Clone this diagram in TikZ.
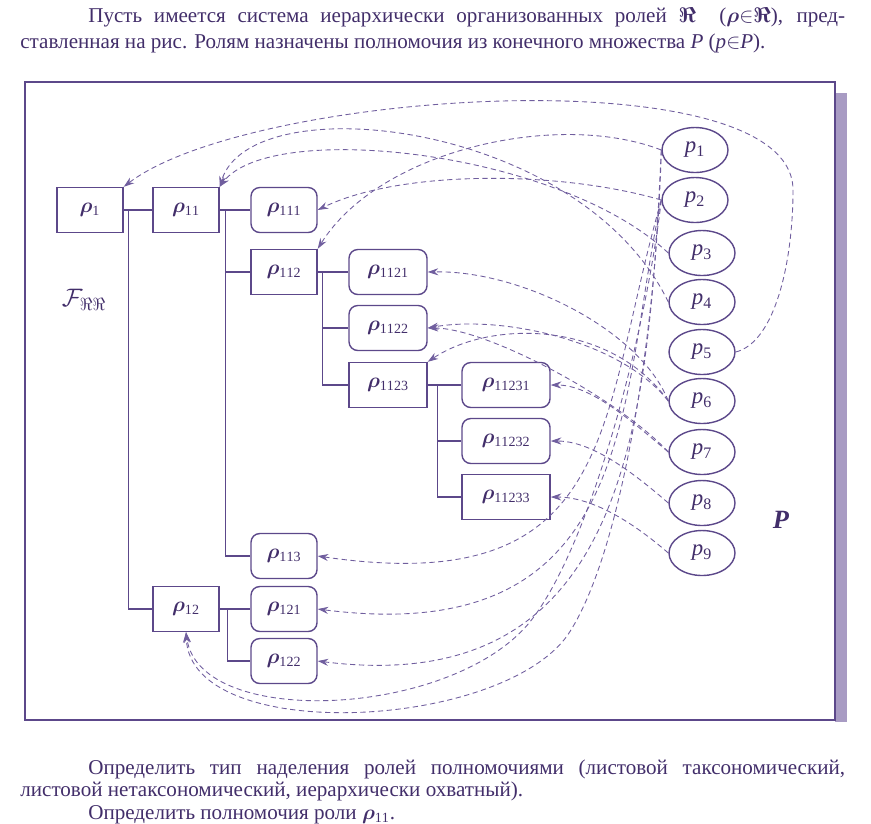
\documentclass[tikz,border=0pt]{standalone}
\usepackage{fontspec}
\setmainfont{Liberation Serif}
\usepackage{amsmath,amssymb,bm}
\usetikzlibrary{arrows.meta,shapes.geometric}
\definecolor{roleInk}{RGB}{66,46,106}
\definecolor{roleLine}{RGB}{92,72,138}
\definecolor{grantLine}{RGB}{112,94,158}
\definecolor{frameShade}{RGB}{168,155,195}
\newcommand{\rolerho}[1]{$\bm{\rho}_{\mathrm{#1}}$}
\newcommand{\permp}[1]{$\mathit{p}_{\mathrm{#1}}$}
\tikzset{
  rolebox/.style={draw=roleLine,line width=.8pt,text=roleInk,minimum width=1.32cm,minimum height=.9cm,inner sep=1pt,font=\fontsize{12}{14}\selectfont},
  roleround/.style={rolebox,rounded corners=5pt},
  permnode/.style={ellipse,draw=roleLine,line width=.8pt,text=roleInk,minimum width=1.32cm,minimum height=.9cm,inner sep=0pt,font=\fontsize{13}{14}\selectfont},
  treeline/.style={draw=roleLine,line width=.8pt},
  grant/.style={draw=grantLine,line width=.5pt,densely dashed,-{Stealth[length=6pt,width=4pt]}},
  textblock/.style={anchor=north west,inner sep=0pt,text width=16.5cm,align=justify,text=roleInk}
}
\begin{document}
\begin{tikzpicture}[x=0.02cm,y=-0.02cm]
\useasboundingbox (0,0) rectangle (871,823);
% frame with shadow
\fill[frameShade] (835,93) rectangle (847,722);
\draw[draw=roleLine,line width=1pt] (25,82) rectangle (835,720);

% texts
\node[textblock,font=\fontsize{12}{14.8}\selectfont] (intro) at (20,7) {\hspace*{1.36cm}Пусть имеется система иерархически организованных ролей $\bm{\Re}$ \ ($\bm{\rho}{\in}\bm{\Re}$), пред-\linebreak ставленная на рис. Ролям назначены полномочия из конечного множества \textit{P} (\textit{p}${\in}$\textit{P}).};
\node[textblock,font=\fontsize{12}{12.9}\selectfont] (task) at (20,759) {\hspace*{1.36cm}Определить тип наделения ролей полномочиями (листовой таксономический, листовой нетаксономический, иерархически охватный).\par
\hspace*{1.36cm}Определить полномочия роли $\bm{\rho}_{\mathrm{11}}$.};

% roles
\node[rolebox] (r1) at (90,210) {\rolerho{1}};
\node[rolebox] (r11) at (186,210) {\rolerho{11}};
\node[roleround] (r111) at (284,210) {\rolerho{111}};
\node[rolebox] (r112) at (284,272) {\rolerho{112}};
\node[roleround,minimum width=1.56cm] (r1121) at (388,272) {\rolerho{1121}};
\node[roleround,minimum width=1.56cm] (r1122) at (388,328) {\rolerho{1122}};
\node[rolebox,minimum width=1.56cm] (r1123) at (388,385) {\rolerho{1123}};
\node[roleround,minimum width=1.76cm] (r11231) at (506,385) {\rolerho{11231}};
\node[roleround,minimum width=1.76cm] (r11232) at (506,441) {\rolerho{11232}};
\node[rolebox,minimum width=1.76cm] (r11233) at (506,497) {\rolerho{11233}};
\node[roleround] (r113) at (284,556) {\rolerho{113}};
\node[rolebox] (r12) at (186,609) {\rolerho{12}};
\node[roleround] (r121) at (284,609) {\rolerho{121}};
\node[roleround] (r122) at (284,661) {\rolerho{122}};

% permissions
\node[permnode] (p1) at (695,150) {\permp{1}};
\node[permnode] (p2) at (695,200) {\permp{2}};
\foreach \n/\y in {3/253,4/302,5/352,6/401,7/452,8/503,9/553}
  \node[permnode] (p\n) at (702,\y) {\permp{\n}};

\node[text=roleInk,font=\fontsize{14}{15}\selectfont] (fRR) at (84,300) {$\mathcal{F}_{\Re\Re}$};
\node[text=roleInk,font=\fontsize{15}{16}\selectfont] (Pset) at (781,520) {\textbf{\textit{P}}};

% hierarchy
\draw[treeline] (r1.east) -- (r11.west);
\draw[treeline] ([xshift=.1cm]r1.east) |- (r12.west);
\draw[treeline] (r11.east) -- (r111.west);
\draw[treeline] ([xshift=.12cm]r11.east) |- (r112.west);
\draw[treeline] ([xshift=.12cm]r11.east) |- (r113.west);
\draw[treeline] (r112.east) -- (r1121.west);
\draw[treeline] ([xshift=.1cm]r112.east) |- (r1122.west);
\draw[treeline] ([xshift=.1cm]r112.east) |- (r1123.west);
\draw[treeline] (r1123.east) -- (r11231.west);
\draw[treeline] ([xshift=.2cm]r1123.east) |- (r11232.west);
\draw[treeline] ([xshift=.2cm]r1123.east) |- (r11233.west);
\draw[treeline] (r12.east) -- (r121.west);
\draw[treeline] ([xshift=.16cm]r12.east) |- (r122.west);

% assignments
\draw[grant] (p5.east) .. controls +(40,-10) and +(0,70) .. (793,190) .. controls +(0,-135) and +(127,-97) .. (r1.north east);
\draw[grant] (p4.west) .. controls +(-88,-182) and +(31,-102) .. (r11.north east);
\draw[grant] (p3.west) .. controls +(-110,-103) and +(51,-67) .. (r11.north east);
\draw[grant] (p1.west) .. controls +(-103,-40) and +(62,-99) .. (r112.north east);
\draw[grant] (p2.west) .. controls +(-103,-30) and +(82,-40) .. (r111.east);
\draw[grant] (p6.west) .. controls +(-28,-71) and +(93,-2) .. (r1121.east);
\draw[grant] (p6.west) .. controls +(-48,-61) and +(73,-13) .. (r1122.east);
\draw[grant] (p7.west) .. controls +(-48,-52) and +(60,0) .. (r1122.east);
\draw[grant] (p6.west) .. controls +(-58,-81) and +(63,-42) .. (r1123.north east);
\draw[grant] (p7.west) .. controls +(-38,-32) and +(40,0) .. (r11231.east);
\draw[grant] (p8.west) .. controls +(-38,-33) and +(40,0) .. (r11232.east);
\draw[grant] (p9.west) .. controls +(-38,-33) and +(40,0) .. (r11233.east);
\draw[grant] (p2.west) .. controls +(-63,220) and +(302,44) .. (r113.east);
\draw[grant] (p2.west) .. controls +(-43,200) and +(322,41) .. (r121.east);
\draw[grant] (p1.west) .. controls +(-13,270) and +(312,39) .. (r122.east);
\draw[grant] (p2.west) .. controls +(-15,130) and +(60,-80) .. (533,618) .. controls +(-75,100) and +(14,98) .. (r12.south);
\draw[grant] (p1.west) .. controls +(-5,180) and +(55,-80) .. (567,636) .. controls +(-70,95) and +(5,112) .. (r12.south);
\end{tikzpicture}
\end{document}
